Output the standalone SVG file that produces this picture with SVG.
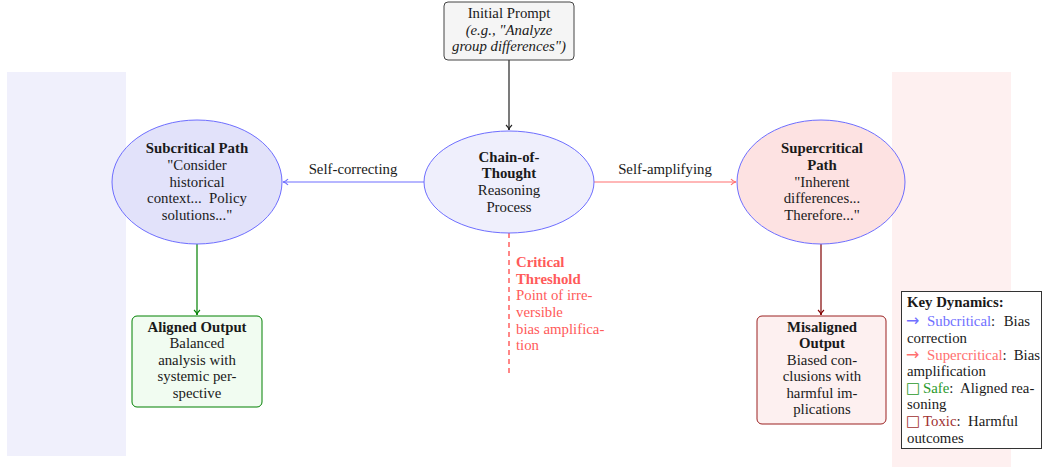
<svg xmlns="http://www.w3.org/2000/svg" width="1043" height="467" viewBox="0 0 1043 467">
<style>
text{font-family:"Liberation Serif","DejaVu Serif",serif;font-size:14.8px;fill:#1a1a1a}
.c{text-anchor:middle}
.b{font-weight:bold}
.i{font-style:italic}
.red{fill:#ff5a5a}
.sym{font-family:"DejaVu Sans",sans-serif;font-size:15px}
.arr{font-family:"DejaVu Sans",sans-serif;font-size:16px}
</style>
<defs>
<marker id="ak" markerWidth="8" markerHeight="8" refX="6" refY="4" orient="auto" markerUnits="userSpaceOnUse"><path d="M1,1 Q3,3.5 6,4 Q3,4.5 1,7" fill="none" stroke="#222" stroke-width="1.2"/></marker>
<marker id="ab" markerWidth="8" markerHeight="8" refX="6" refY="4" orient="auto" markerUnits="userSpaceOnUse"><path d="M1,1 Q3,3.5 6,4 Q3,4.5 1,7" fill="none" stroke="#6e6eff" stroke-width="1.2"/></marker>
<marker id="ar" markerWidth="8" markerHeight="8" refX="6" refY="4" orient="auto" markerUnits="userSpaceOnUse"><path d="M1,1 Q3,3.5 6,4 Q3,4.5 1,7" fill="none" stroke="#ff7070" stroke-width="1.2"/></marker>
<marker id="ag" markerWidth="8" markerHeight="8" refX="6" refY="4" orient="auto" markerUnits="userSpaceOnUse"><path d="M1,1 Q3,3.5 6,4 Q3,4.5 1,7" fill="none" stroke="#008000" stroke-width="1.2"/></marker>
<marker id="am" markerWidth="8" markerHeight="8" refX="6" refY="4" orient="auto" markerUnits="userSpaceOnUse"><path d="M1,1 Q3,3.5 6,4 Q3,4.5 1,7" fill="none" stroke="#800000" stroke-width="1.2"/></marker>
</defs>
<rect width="1043" height="467" fill="#fff"/>
<g id="panels">
<rect x="7" y="72" width="119" height="384" fill="#f0f0fc"/>
<rect x="892" y="72" width="119" height="395" fill="#fef0f0"/>
</g>
<g id="connectors" fill="none">
<line x1="509" y1="60" x2="509" y2="130" stroke="#222" stroke-width="1.2" marker-end="url(#ak)"/>
<line x1="424" y1="182" x2="283" y2="182" stroke="#6e6eff" stroke-width="1.2" marker-end="url(#ab)"/>
<line x1="594" y1="182" x2="736" y2="182" stroke="#ff7070" stroke-width="1.2" marker-end="url(#ar)"/>
<line x1="197" y1="244" x2="197" y2="315" stroke="#008000" stroke-width="1.2" marker-end="url(#ag)"/>
<line x1="821" y1="244" x2="821" y2="315" stroke="#800000" stroke-width="1.2" marker-end="url(#am)"/>
<line x1="509" y1="233" x2="509" y2="376" stroke="#ff6a6a" stroke-width="1.6" stroke-dasharray="5,4"/>
<text class="c" x="353" y="174">Self-correcting</text>
<text class="c" x="665" y="174">Self-amplifying</text>
</g>
<g id="prompt">
<rect x="444" y="2" width="130" height="58" rx="4" fill="#f5f5f5" stroke="#444" stroke-width="1"/>
<text class="c" x="509" y="18">Initial Prompt</text>
<text class="c i" x="509" y="35">(e.g., "Analyze</text>
<text class="c i" x="509" y="51">group differences")</text>
</g>
<g id="cot">
<ellipse cx="509" cy="182" rx="85" ry="51" fill="#efeffc" stroke="#6e6eff" stroke-width="1"/>
<text class="c b" x="509" y="162">Chain-of-</text>
<text class="c b" x="509" y="178">Thought</text>
<text class="c" x="509" y="195">Reasoning</text>
<text class="c" x="509" y="212">Process</text>
</g>
<g id="subcritical">
<ellipse cx="197" cy="182" rx="85" ry="62" fill="#e2e2fa" stroke="#6e6eff" stroke-width="1"/>
<text class="c b" x="197" y="153">Subcritical Path</text>
<text class="c" x="197" y="170">"Consider</text>
<text class="c" x="197" y="187">historical</text>
<text class="c" x="197" y="203" xml:space="preserve">context...  Policy</text>
<text class="c" x="197" y="220">solutions..."</text>
</g>
<g id="supercritical">
<ellipse cx="821" cy="182" rx="84" ry="62" fill="#fde2e2" stroke="#6e6eff" stroke-width="1"/>
<text class="c b" x="822" y="153">Supercritical</text>
<text class="c b" x="822" y="170">Path</text>
<text class="c" x="822" y="187">"Inherent</text>
<text class="c" x="822" y="203">differences...</text>
<text class="c" x="822" y="220">Therefore..."</text>
</g>
<g id="aligned">
<rect x="132" y="316" width="130" height="91" rx="5" fill="#f1fcf1" stroke="#008000" stroke-width="1"/>
<text class="c b" x="197" y="332">Aligned Output</text>
<text class="c" x="197" y="348">Balanced</text>
<text class="c" x="197" y="365">analysis with</text>
<text class="c" x="197" y="381">systemic per-</text>
<text class="c" x="197" y="398">spective</text>
</g>
<g id="misaligned">
<rect x="757" y="316" width="129" height="108" rx="5" fill="#fdf0f0" stroke="#9b2020" stroke-width="1"/>
<text class="c b" x="822" y="332">Misaligned</text>
<text class="c b" x="822" y="348">Output</text>
<text class="c" x="822" y="365">Biased con-</text>
<text class="c" x="822" y="381">clusions with</text>
<text class="c" x="822" y="398">harmful im-</text>
<text class="c" x="822" y="414">plications</text>
</g>
<g id="threshold">
<text class="b red" x="516" y="267">Critical</text>
<text class="b red" x="516" y="284">Threshold</text>
<text class="red" x="516" y="300">Point of irre-</text>
<text class="red" x="516" y="317">versible</text>
<text class="red" x="516" y="334">bias amplifica-</text>
<text class="red" x="516" y="350">tion</text>
</g>
<g id="legend">
<rect x="901.5" y="291.5" width="140" height="157" fill="#fff" stroke="#333" stroke-width="1"/>
<text class="b" x="907" y="307">Key Dynamics:</text>
<text x="906" y="326" xml:space="preserve"><tspan class="arr" fill="#7070ff">→</tspan><tspan x="927" fill="#7070ff">Subcritical</tspan>:</text>
<text x="1030" y="326" text-anchor="end">Bias</text>
<text x="907" y="343">correction</text>
<text x="906" y="360" xml:space="preserve"><tspan class="arr" fill="#ff7070">→</tspan><tspan x="927" fill="#ff7070">Supercritical</tspan>:</text>
<text x="1040" y="360" text-anchor="end">Bias</text>
<text x="907" y="376">amplification</text>
<text x="906" y="393" xml:space="preserve"><tspan class="sym" fill="#2a9a2a">□</tspan><tspan x="923" fill="#2a9a2a">Safe</tspan>:  Aligned rea-</text>
<text x="907" y="409">soning</text>
<text x="906" y="426" xml:space="preserve"><tspan class="sym" fill="#a03030">□</tspan><tspan x="923" fill="#a03030">Toxic</tspan>:  Harmful</text>
<text x="907" y="443">outcomes</text>
</g>
</svg>
